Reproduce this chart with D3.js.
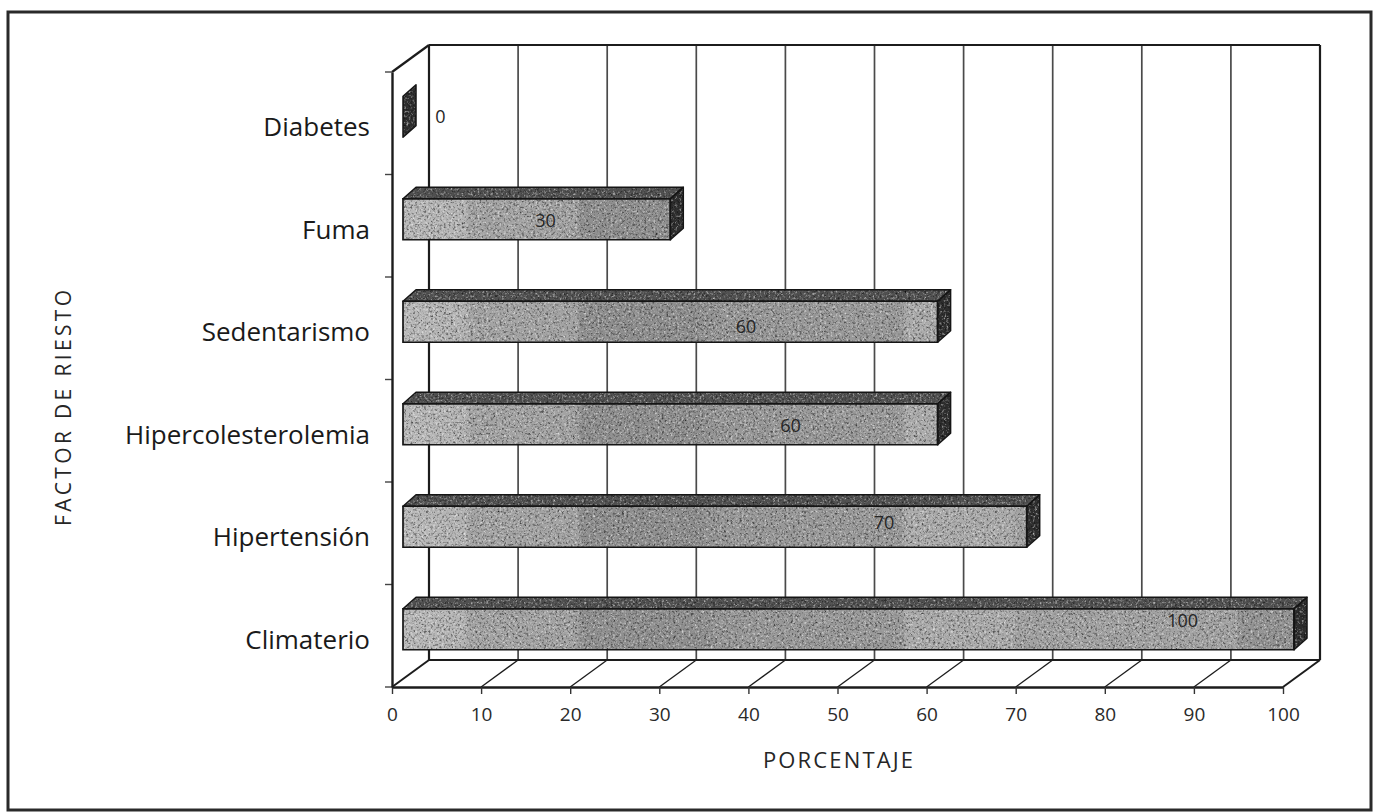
<!DOCTYPE html>
<html>
<head>
<meta charset="utf-8">
<script src="https://cdn.jsdelivr.net/npm/d3@7"></script>
<style>
  html, body { margin: 0; padding: 0; background: #fff; }
  svg { display: block; font-family: "Open Sans", "DejaVu Sans", sans-serif; }
</style>
</head>
<body>
<script>
// ---- data ----
const categories = ["Diabetes", "Fuma", "Sedentarismo", "Hipercolesterolemia", "Hipertensión", "Climaterio"];
const values = [0, 30, 60, 60, 70, 100];
const xTicks = [0, 10, 20, 30, 40, 50, 60, 70, 80, 90, 100];
const xTitle = "PORCENTAJE";
const yTitle = "FACTOR DE RIESTO";

// ---- layout ----
const W = 1378, H = 812;
const FRONT_X0 = 392, FRONT_X1 = 1283;     // front floor edge, 0..100
const FRONT_TOP = 72, FRONT_BASE = 687;    // front vertical edge of the left wall
const WALL = { dx: 37, dy: -27 };          // depth of the chart box
const BAR_FRONT = { dx: 11, dy: -6.5 };    // where the bar faces start in depth
const BAR_BACK = { dx: 24, dy: -18 };      // where the bar tops end in depth
// where each value label sits: [position along the bar in axis units, vertical nudge]
const LABEL_AT = [[4.2, 0], [16, 1], [38.5, 5], [43.5, 1], [54, -4], [87.5, -9]];

const svg = d3.select("body").append("svg").attr("width", W).attr("height", H);
const defs = svg.append("defs");

const x = d3.scaleLinear().domain([0, 100]).range([FRONT_X0, FRONT_X1]);
const y = d3.scaleBand().domain(categories).range([FRONT_TOP, FRONT_BASE]);

// shaded bands along the bar faces
const grad = defs.append("linearGradient").attr("id", "faceGrad")
  .attr("gradientUnits", "userSpaceOnUse")
  .attr("x1", x(0) + BAR_FRONT.dx).attr("x2", x(100) + BAR_FRONT.dx)
  .attr("y1", 0).attr("y2", 0);
[[0, "#bababa"], [0.07, "#b4b4b4"], [0.075, "#a5a5a5"], [0.195, "#a3a3a3"], [0.2, "#909090"],
 [0.33, "#8f8f8f"], [0.36, "#989898"], [0.56, "#9a9a9a"], [0.565, "#acacac"], [0.685, "#ababab"],
 [0.69, "#a2a2a2"], [0.935, "#a3a3a3"], [0.94, "#949494"], [1, "#939393"]]
  .forEach(([o, c]) => grad.append("stop").attr("offset", o).attr("stop-color", c));

// speckle on the bar surfaces
const grain = defs.append("filter").attr("id", "grain")
  .attr("x", 0).attr("y", 0).attr("width", 1).attr("height", 1)
  .attr("color-interpolation-filters", "sRGB");
grain.append("feTurbulence").attr("type", "fractalNoise").attr("baseFrequency", 0.45)
  .attr("numOctaves", 3).attr("seed", 7).attr("result", "n");
grain.append("feColorMatrix").attr("in", "n").attr("type", "matrix")
  .attr("values", "0 0 0 0 0  0 0 0 0 0  0 0 0 0 0  1.7 0 0 0 -0.85").attr("result", "dark");
grain.append("feColorMatrix").attr("in", "n").attr("type", "matrix")
  .attr("values", "0 0 0 0 1  0 0 0 0 1  0 0 0 0 1  0 -1.7 0 0 0.8").attr("result", "light");
const mg = grain.append("feMerge").attr("result", "m");
mg.append("feMergeNode").attr("in", "SourceGraphic");
mg.append("feMergeNode").attr("in", "dark");
mg.append("feMergeNode").attr("in", "light");
grain.append("feComposite").attr("in", "m").attr("in2", "SourceGraphic").attr("operator", "in");

// outer frame
svg.append("rect").attr("x", 8).attr("y", 12).attr("width", 1363).attr("height", 798)
  .attr("fill", "none").attr("stroke", "#2a2a2a").attr("stroke-width", 3);

const INK = "#1c1c1c";
const backTop = FRONT_TOP + WALL.dy;
const backBase = FRONT_BASE + WALL.dy;
const bx = v => x(v) + WALL.dx;

// back wall gridlines
svg.append("g").selectAll("line").data(xTicks.slice(1, -1)).join("line")
  .attr("x1", bx).attr("x2", bx).attr("y1", backTop).attr("y2", backBase)
  .attr("stroke", "#4a4a4a").attr("stroke-width", 1.7);

// floor lines running back from each tick
svg.append("g").selectAll("line").data(xTicks).join("line")
  .attr("x1", d => x(d)).attr("y1", FRONT_BASE).attr("x2", bx).attr("y2", backBase)
  .attr("stroke", INK).attr("stroke-width", d => (d === 0 || d === 100) ? 2 : 1.3);

// box edges
const edges = [
  [[bx(0), backBase], [bx(100), backBase]],
  [[bx(0), backTop], [bx(100), backTop]],
  [[bx(0), backTop], [bx(0), backBase]],
  [[bx(100), backTop], [bx(100), backBase]],
  [[x(0), FRONT_TOP], [bx(0), backTop]]
];
svg.append("g").selectAll("path").data(edges).join("path")
  .attr("d", d => d3.line()(d)).attr("fill", "none")
  .attr("stroke", INK).attr("stroke-width", 2.2);

// category boundary ticks on the left wall
const step = y.step();
svg.append("g").selectAll("line").data(d3.range(categories.length + 1)).join("line")
  .attr("x1", x(0) - 7).attr("x2", x(0))
  .attr("y1", i => FRONT_TOP + i * step).attr("y2", i => FRONT_TOP + i * step)
  .attr("stroke", "#444").attr("stroke-width", 1.4);

// x axis along the front floor edge
const xAxis = svg.append("g").attr("transform", `translate(0,${FRONT_BASE})`)
  .call(d3.axisBottom(x).tickValues(xTicks).tickSize(7).tickSizeOuter(0).tickPadding(14));
xAxis.select(".domain").attr("stroke", INK).attr("stroke-width", 2.4);
xAxis.selectAll(".tick line").attr("stroke", "#333").attr("stroke-width", 1.4);
xAxis.selectAll(".tick text").attr("font-size", 19).attr("fill", "#2a2a2a")
  .attr("font-family", "Open Sans");

// y axis: front edge of the left wall with category names
const yAxis = svg.append("g").attr("transform", `translate(${x(0)},0)`)
  .call(d3.axisLeft(y).tickSize(0).tickSizeOuter(0).tickPadding(22));
yAxis.select(".domain").attr("stroke", INK).attr("stroke-width", 2.4);
yAxis.selectAll(".tick text").attr("font-size", 26).attr("fill", "#1a1a1a")
  .attr("font-family", "Open Sans").attr("dy", "0.5em");

// bars
const rows = categories.map((c, i) => {
  const top = y(c) + y.bandwidth() * 0.3 + BAR_FRONT.dy;
  const bot = y(c) + y.bandwidth() * 0.7 + BAR_FRONT.dy;
  const xa = x(0) + BAR_FRONT.dx, xb = x(values[i]) + BAR_FRONT.dx;
  const ddx = BAR_BACK.dx - BAR_FRONT.dx, ddy = BAR_BACK.dy - BAR_FRONT.dy;
  return {
    c, v: values[i], i, top, bot, xa, xb,
    front: [[xa, top], [xb, top], [xb, bot], [xa, bot]],
    topFace: [[xa, top], [xb, top], [xb + ddx, top + ddy], [xa + ddx, top + ddy]],
    side: [[xb, top], [xb + ddx, top + ddy], [xb + ddx, bot + ddy], [xb, bot]]
  };
});
const poly = pts => d3.line()(pts) + "Z";

const bars = svg.append("g").selectAll("g").data(rows).join("g");
bars.filter(d => d.v > 0).append("path").attr("d", d => poly(d.front))
  .attr("fill", "url(#faceGrad)").attr("filter", "url(#grain)");
bars.filter(d => d.v > 0).append("path").attr("d", d => poly(d.topFace))
  .attr("fill", "#505050").attr("filter", "url(#grain)");
bars.append("path").attr("d", d => poly(d.side))
  .attr("fill", "#2e2e2e").attr("filter", "url(#grain)");
// outlines
bars.filter(d => d.v > 0).append("path").attr("d", d => poly(d.front))
  .attr("fill", "none").attr("stroke", "#151515").attr("stroke-width", 1.7);
bars.filter(d => d.v > 0).append("path").attr("d", d => poly(d.topFace))
  .attr("fill", "none").attr("stroke", "#151515").attr("stroke-width", 1.5)
  .attr("stroke-linejoin", "round");
bars.append("path").attr("d", d => poly(d.side))
  .attr("fill", "none").attr("stroke", "#151515").attr("stroke-width", 1.5)
  .attr("stroke-linejoin", "round");

// value labels
bars.append("text")
  .attr("x", d => x(LABEL_AT[d.i][0]) + BAR_FRONT.dx)
  .attr("y", d => (d.top + d.bot) / 2 + LABEL_AT[d.i][1])
  .attr("dy", "0.36em").attr("text-anchor", "middle")
  .attr("font-size", 18).attr("fill", "#262626")
  .text(d => d.v);

// axis titles
svg.append("text").attr("x", 838).attr("y", 760).attr("dy", "0.36em")
  .attr("text-anchor", "middle").attr("font-size", 22).attr("fill", "#262626")
  .attr("textLength", 150).attr("lengthAdjust", "spacing")
  .text(xTitle);
svg.append("text").attr("transform", "translate(63,408) rotate(-90)").attr("dy", "0.36em")
  .attr("text-anchor", "middle").attr("font-size", 21).attr("fill", "#262626")
  .attr("textLength", 236).attr("lengthAdjust", "spacing")
  .text(yTitle);
</script>
</body>
</html>
